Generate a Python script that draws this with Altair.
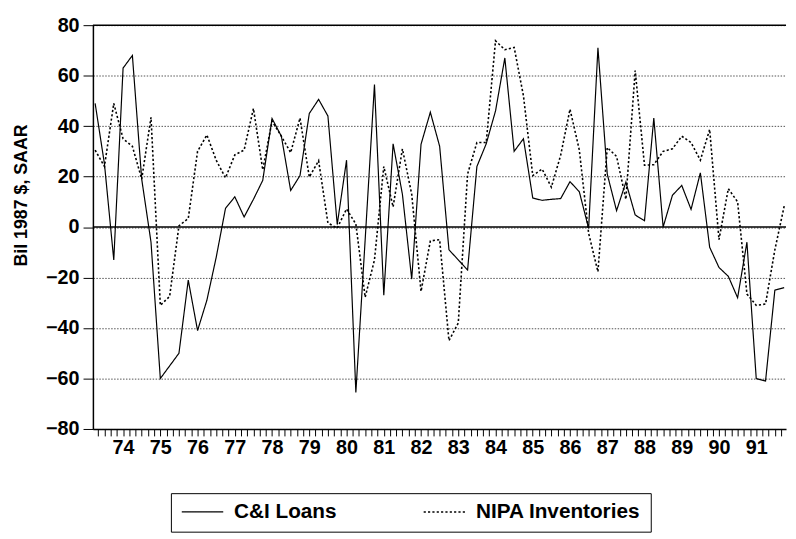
import altair as alt
import pandas as pd

# ---- data (quarterly, 1973Q2 .. 1991Q4) ----
start_year = 1973
start_quarter = 2
series_names = ["C&I Loans", "NIPA Inventories"]

ci_loans = [49, 25, -13, 63, 68, 19, -6, -60, -55, -50,
            -21, -41, -29, -12, 7.4, 12, 4, 11, 18.5, 43,
            36, 14.5, 20.4, 45, 50.6, 44, 1, 26.5, -65.5, -5,
            56.5, -27, 33, 13, -20.6, 32.8, 45.5, 32, -9, -13,
            -17, 24, 33, 46, 67, 30, 35, 11.5, 10.6, 11,
            11.3, 18, 14, -0.5, 71, 21, 6.5, 17.8, 4.8, 2.5,
            43.2, 0, 12.6, 16.5, 7, 21.5, -8, -16, -19.5, -28,
            -6, -60, -61, -25, -24]

nipa_inv = [30.5, 24, 49, 35, 32, 19, 43.5, -31, -27.5, 0.5,
            3.4, 30, 36.5, 26.5, 19.5, 28.6, 30.5, 47, 22.7, 42,
            36, 29.5, 43.2, 19.8, 26.3, 1.6, -0.4, 7.2, 1.2, -27.8,
            -13, 24, 8, 31, 13, -25.5, -5.5, -5, -45, -38,
            21, 33.5, 33.5, 73.8, 70.3, 71.2, 52, 20.4, 23, 15.8,
            28.5, 46.7, 30.5, -2.5, -17.7, 31.5, 28, 11, 62, 24.5,
            24.7, 30, 31, 36, 33.5, 26.5, 38.7, -5, 15.2, 10,
            -26.5, -31, -30.5, -9, 8.3]

y_ticks = [-80, -60, -40, -20, 0, 20, 40, 60, 80]
ref_levels = [0, 80]

# ---- build table ----
n = len(ci_loans)
t = [start_year + (start_quarter - 1 + i) / 4 for i in range(n)]
df = pd.DataFrame({
    "t": t + t,
    "value": ci_loans + nipa_inv,
    "series": [series_names[0]] * n + [series_names[1]] * n,
})
ref_df = pd.DataFrame({"level": ref_levels})

x_domain = [1973.19, 1991.80]
tick_values = [round(1973 + k / 6, 4) for k in range(2, 113)]

FONT = "Liberation Sans"

x_enc = alt.X(
    "t:Q",
    scale=alt.Scale(domain=x_domain, nice=False, zero=False),
    axis=alt.Axis(
        values=tick_values,
        labelExpr="abs(datum.value - round(datum.value)) < 0.01 ? substring(toString(round(datum.value)), 2, 4) : ''",
        labelOverlap=False,
        labelBound=False,
        labelFlush=False,
        grid=False,
        title=None,
        tickSize=7,
        tickColor="black",
        tickWidth=1,
        domainColor="black",
        domainWidth=1.5,
        labelPadding=2,
        labelFontSize=20,
        labelFont=FONT,
        labelFontWeight="bold",
        labelColor="black",
    ),
)

y_enc = alt.Y(
    "value:Q",
    scale=alt.Scale(domain=[-80, 80], nice=False),
    axis=alt.Axis(
        values=y_ticks,
        title="Bil 1987 $, SAAR",
        titleFont=FONT,
        titleFontSize=18,
        titleFontWeight="bold",
        titleColor="black",
        titleX=-63,
        titleY=172,
        grid=True,
        gridColor="black",
        gridDash=[1.5, 1.5],
        gridWidth=0.8,
        gridOpacity=0.85,
        tickSize=10,
        tickColor="black",
        domainColor="black",
        domainWidth=1.5,
        labelPadding=4,
        labelFontSize=20,
        labelFont=FONT,
        labelFontWeight="bold",
        labelColor="black",
    ),
)

lines = alt.Chart(df).mark_line(color="black").encode(
    x=x_enc,
    y=y_enc,
    strokeDash=alt.StrokeDash(
        "series:N",
        scale=alt.Scale(domain=series_names, range=[[1, 0], [2.2, 2.2]]),
        legend=alt.Legend(
            title=None,
            orient="none",
            legendX=79,
            legendY=474,
            direction="horizontal",
            symbolType="stroke",
            symbolSize=1764,
            clipHeight=18,
            symbolStrokeColor="black",
            symbolStrokeWidth=1.3,
            labelFont=FONT,
            labelFontSize=21,
            labelFontWeight="bold",
            labelColor="black",
            labelOffset=10,
            labelLimit=400,
            columnPadding=87,
            padding=10,
            strokeColor="black",
            fillColor="white",
            cornerRadius=0,
        ),
    ),
    strokeWidth=alt.StrokeWidth(
        "series:N",
        scale=alt.Scale(domain=series_names, range=[1.2, 1.6]),
        legend=None,
    ),
)

rules = alt.Chart(ref_df).mark_rule(color="black", strokeWidth=1.5).encode(
    y=alt.Y("level:Q", scale=alt.Scale(domain=[-80, 80], nice=False)),
)

chart = alt.layer(rules, lines).properties(
    width=702,
    height=409,
    padding={"left": 5, "top": 4, "right": 0, "bottom": 0},
    background="white",
).configure_view(stroke=None)

chart.save("out.html", embed_options={"renderer": "svg", "actions": False})
